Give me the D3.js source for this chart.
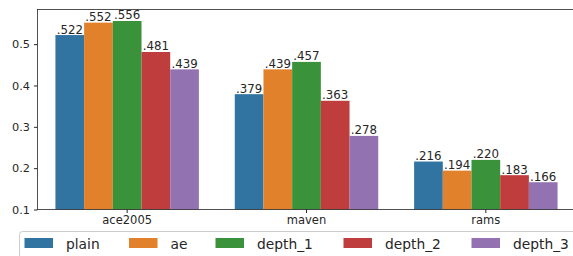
<!DOCTYPE html>
<html>
<head>
<meta charset="utf-8">
<script src="https://cdn.jsdelivr.net/npm/d3@7"></script>
<style>
  body { margin: 0; background: #fff; }
  svg { display: block; font-family: "DejaVu Sans", sans-serif; }
</style>
</head>
<body>
<div id="chart"></div>
<script>
const datasets = ["ace2005", "maven", "rams"];
const methods = ["plain", "ae", "depth_1", "depth_2", "depth_3"];
const scores = [
  [0.522, 0.552, 0.556, 0.481, 0.439],
  [0.379, 0.439, 0.457, 0.363, 0.278],
  [0.216, 0.194, 0.220, 0.183, 0.166]
];
const yTicks = [0.1, 0.2, 0.3, 0.4, 0.5];
const colors = ["#3274a1", "#e1812c", "#3a923a", "#c03d3e", "#9372b2"];

const W = 573, H = 256;
const plot = {left: 37.5, right: 575.5, top: 9.5, bottom: 209.5};

const svg = d3.select("#chart").append("svg")
  .attr("width", W).attr("height", H);

const x0 = d3.scaleBand().domain(datasets).range([plot.left, plot.right]);
const x1 = d3.scaleBand().domain(methods).range([0, x0.bandwidth() * 0.8]);
const y = d3.scaleLinear().domain([0.1, 0.5838]).range([plot.bottom, plot.top]);

// bars
const groups = svg.append("g").selectAll("g")
  .data(datasets)
  .join("g")
  .attr("transform", d => `translate(${x0(d) + x0.bandwidth() * 0.1},0)`);

groups.selectAll("rect")
  .data((d, i) => scores[i].map((v, j) => ({m: methods[j], v, c: colors[j]})))
  .join("rect")
  .attr("x", d => x1(d.m))
  .attr("width", x1.bandwidth())
  .attr("y", d => y(d.v))
  .attr("height", d => plot.bottom - y(d.v))
  .attr("fill", d => d.c);

groups.selectAll("text")
  .data((d, i) => scores[i].map((v, j) => ({m: methods[j], v})))
  .join("text")
  .attr("x", d => x1(d.m) + x1.bandwidth() / 2)
  .attr("y", d => y(d.v) - 1.5)
  .attr("text-anchor", "middle")
  .attr("font-size", 11.8)
  .attr("fill", "#262626")
  .text(d => d3.format(".3f")(d.v).replace(/^0/, ""));

// axes
const yAxis = svg.append("g")
  .attr("transform", `translate(${plot.left},0)`)
  .call(d3.axisLeft(y).tickValues(yTicks).tickFormat(d3.format(".1f")).tickSize(3.5).tickPadding(4));
yAxis.select(".domain").remove();
yAxis.selectAll("text").attr("font-size", 11.3).attr("fill", "#262626").attr("font-family", "DejaVu Sans");
yAxis.selectAll("line").attr("stroke", "#262626");

const xAxis = svg.append("g")
  .attr("transform", `translate(0,${plot.bottom})`)
  .call(d3.axisBottom(x0).tickSize(3.5).tickPadding(3));
xAxis.select(".domain").remove();
xAxis.selectAll("text").attr("font-size", 11.5).attr("fill", "#262626").attr("font-family", "DejaVu Sans");
xAxis.selectAll("line").attr("stroke", "#262626");

// frame
svg.append("rect")
  .attr("x", plot.left).attr("y", plot.top)
  .attr("width", plot.right - plot.left).attr("height", plot.bottom - plot.top)
  .attr("fill", "none").attr("stroke", "#262626").attr("stroke-width", 0.8);

// legend
const legend = svg.append("g");
legend.append("rect")
  .attr("x", 19.5).attr("y", 231.5)
  .attr("width", 560).attr("height", 40)
  .attr("rx", 3)
  .attr("fill", "#fff").attr("fill-opacity", 0.8)
  .attr("stroke", "#cccccc");

const legendX = [24.5, 129, 215.5, 343.5, 471.5];
const items = legend.selectAll("g.item")
  .data(methods)
  .join("g")
  .attr("class", "item")
  .attr("transform", (d, i) => `translate(${legendX[i]},238)`);
items.append("rect")
  .attr("width", 28.5).attr("height", 10)
  .attr("fill", (d, i) => colors[i]);
items.append("text")
  .attr("x", 41.5).attr("y", 10.5)
  .attr("font-size", 13.8)
  .attr("fill", "#262626")
  .text(d => d);
</script>
</body>
</html>
